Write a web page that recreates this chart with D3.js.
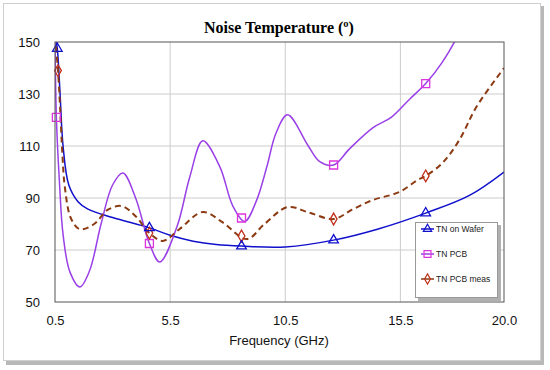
<!DOCTYPE html>
<html>
<head>
<meta charset="utf-8">
<script src="https://cdn.jsdelivr.net/npm/d3@7"></script>
<style>
body { margin: 0; background: #fff; }
svg { display: block; }
.tick text { font-family: Arial, "Liberation Sans", sans-serif; }
</style>
</head>
<body>
<div id="chart"></div>
<script>
var width = 550;
var height = 370;

// Data (frequency in GHz, noise temperature)
var xTicks = [0.5, 5.5, 10.5, 15.5, 20.0];
var yTicks = [50, 70, 90, 110, 130, 150];

var waferData = [[0.5,153],[0.6,147.5],[0.72,130],[0.85,110],[1.1,95],[1.5,88.6],[1.93,85.7],
  [3.0,82.5],[4.6,78.5],[5.5,75.7],[6.5,73.4],[7.5,72.1],[8.6,71.5],[10.5,71.2],[12.6,73.8],
  [14.5,78],[16.6,84.2],[18.5,91],[20.0,100]];
var pcbData = [[0.5,152],[0.56,121],[0.7,95],[0.85,76],[1.15,61.5],[1.58,55.8],[2.0,62],[2.5,80],
  [3.0,95],[3.45,99.6],[4.0,90],[4.6,72.5],[5.05,65.4],[5.8,79],[6.35,98],[6.92,112],[7.66,102],
  [8.22,87],[8.74,81],[9.25,89],[9.7,102],[10.1,115],[10.6,122],[11.5,110],[12.0,104],[12.6,102.7],
  [13.3,109],[14.3,117],[15.1,121],[15.9,128],[16.6,134],[17.3,142],[17.9,151],[18.5,165]];
var measData = [[0.5,152],[0.63,139],[0.72,125],[0.82,107],[0.93,94],[1.2,82],[1.58,78],[2.2,80],
  [2.8,85.5],[3.4,86.9],[4.0,83],[4.6,76.5],[5.18,73.5],[5.9,78],[6.92,84.6],[7.8,80.5],[8.83,74.2],
  [9.6,80],[10.6,86.5],[11.5,84.5],[12.6,81.9],[13.4,85.5],[14.3,89.2],[15.46,92.3],[16.24,96.9],
  [16.6,98.5],[17.33,103.5],[18.06,112.3],[18.8,125],[20.0,140]];

var waferMarkers = [[0.6,147.5],[4.6,78.5],[8.6,71.5],[12.6,73.8],[16.6,84.2]];
var pcbMarkers = [[0.56,121],[4.6,72.5],[8.6,82.3],[12.6,102.7],[16.6,134]];
var measMarkers = [[0.63,139],[4.6,76.5],[8.6,75.4],[12.6,81.9],[16.6,98.5]];

var seriesNames = ["TN on Wafer", "TN PCB", "TN PCB meas"];

var margin = {top: 42, left: 55, right: 46, bottom: 68};
var plotW = width - margin.left - margin.right;
var plotH = height - margin.top - margin.bottom;

var svg = d3.select("#chart")
  .append("svg")
  .attr("width", width)
  .attr("height", height);

// outer frame with shadow
svg.append("rect")
  .attr("x", 6).attr("y", 6).attr("width", 538).attr("height", 359)
  .attr("fill", "#b8b8b8");
svg.append("rect")
  .attr("x", 3.5).attr("y", 3.5).attr("width", 537).attr("height", 357)
  .attr("fill", "#fff").attr("stroke", "#cfcfcf");

svg.append("text")
  .attr("x", 279).attr("y", 33)
  .attr("text-anchor", "middle")
  .style("font-family", "'Liberation Serif', 'Times New Roman', serif")
  .style("font-weight", "bold")
  .style("font-size", "16px")
  .text("Noise Temperature (º)");

var g = svg.append("g")
  .attr("transform", "translate(" + margin.left + "," + margin.top + ")");

var x = d3.scaleLinear().domain([0.5, 20]).range([0, plotW]);
var y = d3.scaleLinear().domain([50, 150]).range([plotH, 0]);

// grid
g.append("g").selectAll("line")
  .data(yTicks.slice(1, -1))
  .enter().append("line")
  .attr("x1", 0).attr("x2", plotW)
  .attr("y1", function (d) { return y(d); }).attr("y2", function (d) { return y(d); })
  .attr("stroke", "#cccccc");
g.append("g").selectAll("line")
  .data(xTicks.slice(1, -1))
  .enter().append("line")
  .attr("y1", 0).attr("y2", plotH)
  .attr("x1", function (d) { return x(d); }).attr("x2", function (d) { return x(d); })
  .attr("stroke", "#cccccc");

// axes
var yAxis = g.append("g")
  .call(d3.axisLeft(y).tickValues(yTicks).tickSize(0).tickPadding(15).tickFormat(d3.format("d")));
yAxis.select(".domain").remove();
yAxis.selectAll("text").style("font-size", "13px").attr("fill", "#111");

var xAxis = g.append("g")
  .attr("transform", "translate(0," + plotH + ")")
  .call(d3.axisBottom(x).tickValues(xTicks).tickSize(0).tickPadding(14).tickFormat(d3.format(".1f")));
xAxis.select(".domain").remove();
xAxis.selectAll("text").style("font-size", "13px").attr("fill", "#111");

svg.append("text")
  .attr("x", 279).attr("y", 345)
  .attr("text-anchor", "middle")
  .style("font-family", "Arial, 'Liberation Sans', sans-serif")
  .style("font-size", "13px")
  .attr("fill", "#111")
  .text("Frequency (GHz)");

// clip
svg.append("defs").append("clipPath").attr("id", "plotclip")
  .append("rect").attr("x", 0).attr("y", 0).attr("width", plotW).attr("height", plotH);

var line = d3.line()
  .x(function (d) { return x(d[0]); })
  .y(function (d) { return y(d[1]); })
  .curve(d3.curveCatmullRom.alpha(0.5));

var plot = g.append("g").attr("clip-path", "url(#plotclip)");

plot.append("path").datum(waferData)
  .attr("d", line).attr("fill", "none")
  .attr("stroke", "#1010cc").attr("stroke-width", 1.5);
plot.append("path").datum(pcbData)
  .attr("d", line).attr("fill", "none")
  .attr("stroke", "#9a40e6").attr("stroke-width", 1.5);
plot.append("path").datum(measData)
  .attr("d", line).attr("fill", "none")
  .attr("stroke", "#8b3a12").attr("stroke-width", 2)
  .attr("stroke-dasharray", "6,4");

var triangle = d3.symbol().type(d3.symbolTriangle).size(40);
var square = d3.symbol().type(d3.symbolSquare).size(64);
var diamond = d3.symbol().type(d3.symbolDiamond).size(40);

function drawMarkers(data, sym, color) {
  g.append("g").selectAll("path")
    .data(data)
    .enter().append("path")
    .attr("transform", function (d) { return "translate(" + x(d[0]) + "," + y(d[1]) + ")"; })
    .attr("d", sym)
    .attr("fill", "none")
    .attr("stroke", color)
    .attr("stroke-width", 1.3);
}
drawMarkers(pcbMarkers, square, "#dd33dd");
drawMarkers(measMarkers, diamond, "#c0301a");
drawMarkers(waferMarkers, triangle, "#1010cc");

// plot border
g.append("rect")
  .attr("width", plotW).attr("height", plotH)
  .attr("fill", "none").attr("stroke", "#555");

// legend
var lg = svg.append("g").attr("transform", "translate(415,222)");
lg.append("rect").attr("x", 3).attr("y", 3).attr("width", 83).attr("height", 76).attr("fill", "#b0b0b0");
lg.append("rect").attr("x", 0.5).attr("y", 0.5).attr("width", 82).attr("height", 75)
  .attr("fill", "#fff").attr("stroke", "#999");

var legendColors = ["#1010cc", "#9a40e6", "#8b3a12"];
var legendMarkColors = ["#1010cc", "#dd33dd", "#c0301a"];
var legendSyms = [d3.symbol().type(d3.symbolTriangle).size(30),
  d3.symbol().type(d3.symbolSquare).size(48),
  d3.symbol().type(d3.symbolDiamond).size(30)];

seriesNames.forEach(function (name, i) {
  var row = lg.append("g").attr("transform", "translate(0," + (7 + i * 25) + ")");
  row.append("line").attr("x1", 6).attr("x2", 19)
    .attr("stroke", legendColors[i]).attr("stroke-width", 1.5);
  row.append("path").attr("transform", "translate(12.5,0)")
    .attr("d", legendSyms[i]).attr("fill", "none")
    .attr("stroke", legendMarkColors[i]).attr("stroke-width", 1.2);
  row.append("text").attr("x", 21).attr("y", 3)
    .style("font-family", "Arial, 'Liberation Sans', sans-serif")
    .style("font-size", "8.5px")
    .attr("fill", "#222")
    .text(name);
});
</script>
</body>
</html>
